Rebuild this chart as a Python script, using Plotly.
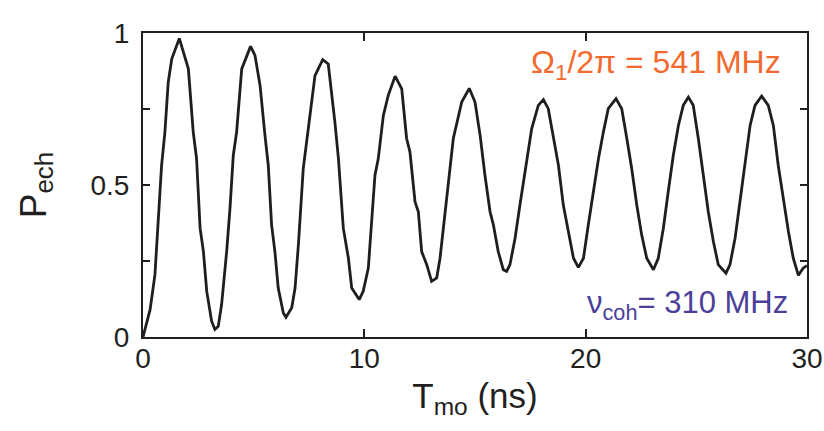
import plotly.graph_objects as go

t_ns = [0.0, 0.32, 0.54, 0.69, 0.84, 0.99, 1.14, 1.30, 1.64, 2.05, 2.27, 2.42, 2.58, 2.73, 2.88, 3.10,
        3.25, 3.40, 3.55, 3.78, 3.93, 4.08, 4.23, 4.46, 4.86, 5.06, 5.29, 5.51, 5.66, 5.81, 5.96, 6.11,
        6.34, 6.46, 6.72, 6.87, 7.02, 7.24, 7.55, 7.77, 8.12, 8.37, 8.67, 8.83, 9.05, 9.28, 9.43, 9.77,
        9.95, 10.18, 10.48, 10.63, 10.86, 11.08, 11.39, 11.69, 11.91, 12.06, 12.29, 12.44, 12.59, 12.82,
        13.04, 13.27, 13.42, 13.64, 14.02, 14.40, 14.74, 15.0, 15.23, 15.45, 15.68, 15.83, 16.05, 16.28,
        16.43, 16.58, 16.81, 17.03, 17.33, 17.56, 17.86, 18.09, 18.31, 18.54, 18.77, 18.99, 19.22, 19.45,
        19.67, 19.90, 20.12, 20.35, 20.58, 20.80, 21.02, 21.37, 21.63, 21.86, 22.08, 22.31, 22.53, 22.76,
        23.06, 23.28, 23.51, 23.73, 23.96, 24.19, 24.41, 24.64, 24.86, 25.09, 25.32, 25.54, 25.77, 25.99,
        26.34, 26.52, 26.75, 26.98, 27.20, 27.43, 27.65, 27.95, 28.25, 28.48, 28.70, 28.93, 29.16, 29.38,
        29.61, 29.83, 30.0]
p_ech = [0.0, 0.09, 0.205, 0.369, 0.565, 0.674, 0.838, 0.915, 0.982, 0.882, 0.674, 0.587, 0.358, 0.281, 0.150, 0.052,
         0.025, 0.035, 0.106, 0.281, 0.423, 0.598, 0.674, 0.882, 0.956, 0.926, 0.827, 0.664, 0.565, 0.369, 0.281, 0.161,
         0.079, 0.065, 0.096, 0.161, 0.303, 0.554, 0.740, 0.860, 0.912, 0.898, 0.707, 0.587, 0.358, 0.259, 0.161, 0.123,
         0.150, 0.227, 0.532, 0.587, 0.729, 0.795, 0.858, 0.816, 0.653, 0.609, 0.445, 0.412, 0.281, 0.238,
         0.183, 0.194, 0.259, 0.412, 0.653, 0.773, 0.818, 0.773, 0.664, 0.532, 0.412, 0.369, 0.281, 0.221,
         0.216, 0.238, 0.325, 0.434, 0.576, 0.685, 0.762, 0.781, 0.751, 0.664, 0.565, 0.434, 0.347, 0.259,
         0.229, 0.259, 0.369, 0.478, 0.587, 0.674, 0.751, 0.784, 0.751, 0.653, 0.554, 0.434, 0.336, 0.259,
         0.221, 0.259, 0.358, 0.478, 0.598, 0.696, 0.762, 0.789, 0.762, 0.653, 0.532, 0.412, 0.314, 0.238,
         0.210, 0.238, 0.325, 0.456, 0.565, 0.696, 0.762, 0.792, 0.762, 0.696, 0.565, 0.456, 0.347, 0.259,
         0.203, 0.227, 0.235]

x_ticks = [0, 10, 20, 30]
x_ticktext = ["0", "10", "20", "30"]
y_ticks = [0, 0.25, 0.5, 0.75, 1]
y_ticktext = ["0", "", "0.5", "", "1"]

FONT = "Liberation Sans, Arial, sans-serif"
AX = "#231f20"

fig = go.Figure()
fig.add_trace(go.Scatter(x=t_ns, y=p_ech, mode="lines",
                         line=dict(color="#1e1e1e", width=2.8), showlegend=False))

fig.update_layout(
    width=824, height=431,
    margin=dict(l=143, r=17, t=33, b=94),
    paper_bgcolor="white", plot_bgcolor="white",
    font=dict(family=FONT, color="#231f20"),
    xaxis=dict(range=[0, 30], tickvals=x_ticks, ticktext=x_ticktext, automargin=False,
               ticks="inside", ticklen=8, tickwidth=2, tickcolor=AX,
               showline=True, linecolor=AX, linewidth=2, mirror="ticks",
               showgrid=False, zeroline=False, ticklabelstandoff=-5,
               tickfont=dict(size=28, family=FONT, color="#231f20"),
               title=dict(text="T<sub>mo</sub> (ns)", font=dict(size=35, family=FONT, color="#231f20"),
                          standoff=11)),
    yaxis=dict(range=[0, 1], tickvals=y_ticks, ticktext=y_ticktext, automargin=False,
               ticks="inside", ticklen=7, tickwidth=2, tickcolor=AX,
               showline=True, linecolor=AX, linewidth=2, mirror="ticks",
               showgrid=False, zeroline=False, ticklabelstandoff=6,
               tickfont=dict(size=28, family=FONT, color="#231f20"),
               title=dict(text="P<sub>ech</sub>", font=dict(size=37, family=FONT, color="#231f20"),
                          standoff=33)),
)

fig.add_annotation(xref="paper", yref="paper", x=0.964, y=0.895, xanchor="right", yanchor="middle",
                   text="Ω<sub>1</sub>/2π = 541 MHz", showarrow=False,
                   font=dict(size=32, family=FONT, color="#f26a2e"))
fig.add_annotation(xref="paper", yref="paper", x=0.974, y=0.105, xanchor="right", yanchor="middle",
                   text="ν<sub>coh</sub>= 310 MHz", showarrow=False,
                   font=dict(size=31, family=FONT, color="#4b3f9a"))

fig.write_html("out.html", config={"displayModeBar": False},
               post_script="document.body.style.margin='0';document.body.style.overflow='hidden';")
